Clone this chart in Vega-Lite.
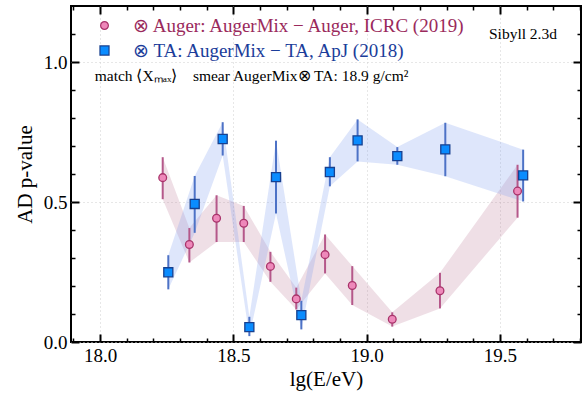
{
  "$schema": "https://vega.github.io/schema/vega-lite/v6.json",
  "width": 510,
  "height": 336,
  "autosize": {"type": "none"},
  "padding": {"left": 71, "top": 6, "right": 1, "bottom": 51},
  "config": {
    "font": "Liberation Serif",
    "view": {"stroke": "black", "strokeWidth": 2},
    "axis": {
      "labelFont": "Liberation Serif",
      "titleFont": "Liberation Serif",
      "labelColor": "black",
      "titleColor": "black",
      "tickColor": "black",
      "titleFontWeight": "normal",
      "domain": false,
      "gridColor": "#cfcfcf",
      "gridDash": [1, 3],
      "gridWidth": 1
    }
  },
  "datasets": {
    "pts": [
      {"lgE": 18.235, "p": 0.587, "lo": 0.51, "hi": 0.66, "set": "Auger"},
      {"lgE": 18.335, "p": 0.348, "lo": 0.284, "hi": 0.407, "set": "Auger"},
      {"lgE": 18.437, "p": 0.442, "lo": 0.357, "hi": 0.524, "set": "Auger"},
      {"lgE": 18.539, "p": 0.424, "lo": 0.357, "hi": 0.486, "set": "Auger"},
      {"lgE": 18.639, "p": 0.27, "lo": 0.215, "hi": 0.322, "set": "Auger"},
      {"lgE": 18.736, "p": 0.154, "lo": 0.116, "hi": 0.194, "set": "Auger"},
      {"lgE": 18.844, "p": 0.312, "lo": 0.245, "hi": 0.384, "set": "Auger"},
      {"lgE": 18.946, "p": 0.202, "lo": 0.132, "hi": 0.271, "set": "Auger"},
      {"lgE": 19.096, "p": 0.081, "lo": 0.055, "hi": 0.106, "set": "Auger"},
      {"lgE": 19.275, "p": 0.183, "lo": 0.12, "hi": 0.247, "set": "Auger"},
      {"lgE": 19.566, "p": 0.539, "lo": 0.444, "hi": 0.633, "set": "Auger"},
      {"lgE": 18.256, "p": 0.249, "lo": 0.188, "hi": 0.31, "set": "TA"},
      {"lgE": 18.355, "p": 0.493, "lo": 0.39, "hi": 0.593, "set": "TA"},
      {"lgE": 18.46, "p": 0.725, "lo": 0.666, "hi": 0.785, "set": "TA"},
      {"lgE": 18.56, "p": 0.053, "lo": 0.021, "hi": 0.09, "set": "TA"},
      {"lgE": 18.66, "p": 0.589, "lo": 0.459, "hi": 0.719, "set": "TA"},
      {"lgE": 18.755, "p": 0.096, "lo": 0.045, "hi": 0.147, "set": "TA"},
      {"lgE": 18.862, "p": 0.607, "lo": 0.556, "hi": 0.66, "set": "TA"},
      {"lgE": 18.966, "p": 0.72, "lo": 0.645, "hi": 0.795, "set": "TA"},
      {"lgE": 19.115, "p": 0.664, "lo": 0.633, "hi": 0.696, "set": "TA"},
      {"lgE": 19.295, "p": 0.688, "lo": 0.592, "hi": 0.783, "set": "TA"},
      {"lgE": 19.587, "p": 0.595, "lo": 0.502, "hi": 0.687, "set": "TA"}
    ]
  },
  "resolve": {"axis": {"x": "independent", "y": "independent"}},
  "layer": [
    {
      "data": {"name": "pts"},
      "transform": [{"filter": "datum.set == 'Auger'"}],
      "mark": {"type": "area", "color": "#b46e8c", "opacity": 0.22},
      "encoding": {
        "x": {"field": "lgE", "type": "quantitative", "scale": {"domain": [17.891, 19.804], "nice": false, "zero": false},
          "axis": {"orient": "bottom", "values": [18, 18.5, 19, 19.5], "format": ".1f", "grid": true, "tickSize": -8, "tickWidth": 2, "labelPadding": 12, "labelFontSize": 19, "title": "lg(E/eV)", "titleFontSize": 21, "titlePadding": 3}},
        "y": {"field": "lo", "type": "quantitative", "scale": {"domain": [0, 1.2], "nice": false},
          "axis": {"orient": "left", "values": [0, 0.5, 1.0], "format": ".1f", "grid": true, "tickSize": -8, "tickWidth": 2, "labelPadding": 12, "labelFontSize": 19, "title": "AD p-value", "titleFontSize": 21, "titlePadding": 8}},
        "y2": {"field": "hi"}
      }
    },
    {
      "data": {"name": "pts"},
      "transform": [{"filter": "datum.set == 'TA'"}],
      "mark": {"type": "area", "color": "#7d9cf0", "opacity": 0.25},
      "encoding": {
        "x": {"field": "lgE", "type": "quantitative",
          "axis": {"orient": "bottom", "values": [17.9, 18.1, 18.2, 18.3, 18.4, 18.6, 18.7, 18.8, 18.9, 19.1, 19.2, 19.3, 19.4, 19.6, 19.7, 19.8], "labels": false, "grid": false, "tickSize": -4, "tickWidth": 1.5, "title": null}},
        "y": {"field": "lo", "type": "quantitative",
          "axis": {"orient": "left", "values": [0.1, 0.2, 0.3, 0.4, 0.6, 0.7, 0.8, 0.9, 1.1], "labels": false, "grid": false, "tickSize": -4, "tickWidth": 1.5, "title": null}},
        "y2": {"field": "hi"}
      }
    },
    {
      "data": {"name": "pts"},
      "transform": [{"filter": "datum.set == 'Auger'"}],
      "mark": {"type": "rule", "color": "#b5588a", "strokeWidth": 2},
      "encoding": {
        "x": {"field": "lgE", "type": "quantitative",
          "axis": {"orient": "top", "values": [18, 18.5, 19, 19.5], "labels": false, "grid": false, "tickSize": -8, "tickWidth": 2, "title": null}},
        "y": {"field": "lo", "type": "quantitative",
          "axis": {"orient": "right", "values": [0, 0.5, 1.0], "labels": false, "grid": false, "tickSize": -8, "tickWidth": 2, "title": null}},
        "y2": {"field": "hi"}
      }
    },
    {
      "data": {"name": "pts"},
      "transform": [{"filter": "datum.set == 'TA'"}],
      "mark": {"type": "rule", "color": "#4d72c6", "strokeWidth": 2},
      "encoding": {
        "x": {"field": "lgE", "type": "quantitative",
          "axis": {"orient": "top", "values": [17.9, 18.1, 18.2, 18.3, 18.4, 18.6, 18.7, 18.8, 18.9, 19.1, 19.2, 19.3, 19.4, 19.6, 19.7, 19.8], "labels": false, "grid": false, "tickSize": -4, "tickWidth": 1.5, "title": null}},
        "y": {"field": "lo", "type": "quantitative",
          "axis": {"orient": "right", "values": [0.1, 0.2, 0.3, 0.4, 0.6, 0.7, 0.8, 0.9, 1.1], "labels": false, "grid": false, "tickSize": -4, "tickWidth": 1.5, "title": null}},
        "y2": {"field": "hi"}
      }
    },
    {
      "data": {"name": "pts"},
      "mark": {"type": "point", "filled": true, "strokeWidth": 1.3, "opacity": 1},
      "encoding": {
        "x": {"field": "lgE", "type": "quantitative", "axis": null},
        "y": {"field": "p", "type": "quantitative", "axis": null},
        "size": {"field": "set", "type": "nominal", "scale": {"domain": ["Auger", "TA"], "range": [60, 82]},
          "legend": {
            "orient": "none", "legendX": 24, "legendY": 10, "title": null, "padding": 0,
            "labelFont": "Liberation Serif", "labelFontSize": 19, "labelOffset": 19, "rowPadding": 5, "labelLimit": 500,
            "symbolStrokeWidth": 1.2,
            "labelColor": {"expr": "datum.value == 'Auger' ? '#9a2a5c' : '#1b3d9a'"},
            "labelExpr": "datum.value == 'Auger' ? '⊗ Auger: AugerMix − Auger, ICRC (2019)' : '⊗ TA: AugerMix − TA, ApJ (2018)'"
          }},
        "shape": {"field": "set", "type": "nominal", "scale": {"domain": ["Auger", "TA"], "range": ["circle", "square"]},
          "legend": {
            "orient": "none", "legendX": 24, "legendY": 10, "title": null, "padding": 0,
            "labelFont": "Liberation Serif", "labelFontSize": 19, "labelOffset": 19, "rowPadding": 5, "labelLimit": 500,
            "symbolStrokeWidth": 1.2,
            "labelColor": {"expr": "datum.value == 'Auger' ? '#9a2a5c' : '#1b3d9a'"},
            "labelExpr": "datum.value == 'Auger' ? '⊗ Auger: AugerMix − Auger, ICRC (2019)' : '⊗ TA: AugerMix − TA, ApJ (2018)'"
          }},
        "fill": {"field": "set", "type": "nominal", "scale": {"domain": ["Auger", "TA"], "range": ["#ee88ba", "#0a8cff"]},
          "legend": {
            "orient": "none", "legendX": 24, "legendY": 10, "title": null, "padding": 0,
            "labelFont": "Liberation Serif", "labelFontSize": 19, "labelOffset": 19, "rowPadding": 5, "labelLimit": 500,
            "symbolStrokeWidth": 1.2,
            "labelColor": {"expr": "datum.value == 'Auger' ? '#9a2a5c' : '#1b3d9a'"},
            "labelExpr": "datum.value == 'Auger' ? '⊗ Auger: AugerMix − Auger, ICRC (2019)' : '⊗ TA: AugerMix − TA, ApJ (2018)'"
          }},
        "stroke": {"field": "set", "type": "nominal", "scale": {"domain": ["Auger", "TA"], "range": ["#a8336a", "#17408f"]},
          "legend": {
            "orient": "none", "legendX": 24, "legendY": 10, "title": null, "padding": 0,
            "labelFont": "Liberation Serif", "labelFontSize": 19, "labelOffset": 19, "rowPadding": 5, "labelLimit": 500,
            "symbolStrokeWidth": 1.2,
            "labelColor": {"expr": "datum.value == 'Auger' ? '#9a2a5c' : '#1b3d9a'"},
            "labelExpr": "datum.value == 'Auger' ? '⊗ Auger: AugerMix − Auger, ICRC (2019)' : '⊗ TA: AugerMix − TA, ApJ (2018)'"
          }}
      }
    },
    {
      "data": {"values": [{}]},
      "mark": {"type": "text", "align": "left", "baseline": "middle", "fontSize": 15.5, "font": "Liberation Serif", "color": "black"},
      "encoding": {
        "x": {"datum": 17.98, "type": "quantitative", "axis": null},
        "y": {"datum": 0.951, "type": "quantitative", "axis": null},
        "text": {"value": "match ⟨Xₘₐₓ⟩\u00a0\u00a0\u00a0\u00a0smear AugerMix⊗ TA: 18.9 g/cm²"}
      }
    },
    {
      "data": {"values": [{}]},
      "mark": {"type": "text", "align": "right", "baseline": "middle", "fontSize": 15.5, "font": "Liberation Serif", "color": "black"},
      "encoding": {
        "x": {"datum": 19.714, "type": "quantitative", "axis": null},
        "y": {"datum": 1.101, "type": "quantitative", "axis": null},
        "text": {"value": "Sibyll 2.3d"}
      }
    }
  ]
}
